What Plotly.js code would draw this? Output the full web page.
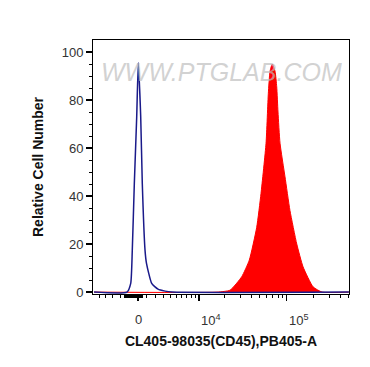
<!DOCTYPE html>
<html>
<head>
<meta charset="utf-8">
<script src="https://cdn.plot.ly/plotly-3.0.1.min.js"></script>
<style>html,body{margin:0;padding:0;background:#fff;}#chart{width:370px;height:367px;}</style>
</head>
<body>
<div id="chart"></div>
<script>
// Fluorescence intensity (PB405-A) and relative cell number
const blueX = [-6000, -1240, -815, -636, -412, -144, 33, 300, 479, 783, 950, 1554, 2322, 3250, 4290, 500000];
const blueY = [0, 0, 3.6, 17.5, 45, 73, 95.5, 73, 45, 17.5, 12, 3.6, 1.2, 0.4, 0, 0];
const redX = [-6000, 16300, 23000, 31200, 38000, 46100, 51500, 58700, 62300, 65100, 69000, 74100, 77400, 80000, 84300, 95900, 109000, 130000, 153000, 198000, 250000, 500000];
const redY = [0, 0, 0.8, 6.4, 13.3, 27, 41, 62, 82.8, 92, 95, 92, 85.5, 75, 62, 48, 34, 20, 10.5, 2.2, 0, 0];

const xMajorVals = [0, 10000, 100000];
const xMajorText = ["0", "10<sup>4</sup>", "10<sup>5</sup>"];
const xMinorVals = [-5000, -4000, -3000, -2000,
  -1500, -1400, -1300, -1200, -1100, -1000, -900, -800, -700, -600, -500, -400, -300, -200, -100, 100, 200, 300, 400, 500,
  1000, 2000, 3000, 4000, 5000, 6000, 7000, 8000, 9000,
  20000, 30000, 40000, 50000, 60000, 70000, 80000, 90000,
  200000, 300000, 400000, 500000];
const yMajorVals = [0, 20, 40, 60, 80, 100];
const yMinorVals = [5, 10, 15, 25, 30, 35, 45, 50, 55, 65, 70, 75, 85, 90, 95];

// biexponential-like display transform
const T = v => Math.asinh(v / 4300);

const font = "Liberation Sans, Arial, sans-serif";

const traces = [
  {x: redX.map(T), y: redY, type: "scatter", mode: "lines",
   line: {color: "#ff0000", width: 1, shape: "spline", smoothing: 0.5},
   fill: "tozeroy", fillcolor: "#ff0000", hoverinfo: "skip"},
  {x: blueX.map(T), y: blueY, type: "scatter", mode: "lines",
   line: {color: "#1a1a8a", width: 1.5, shape: "spline", smoothing: 0.5}, hoverinfo: "skip"}
];

const annotations = xMajorVals.map((v, i) => ({
  x: T(v), xref: "x", y: 0, yref: "paper", yshift: -16,
  text: xMajorText[i], showarrow: false,
  xanchor: i === 0 ? "center" : "left", yanchor: "top",
  font: {family: font, size: 13, color: "#333"}
}));
annotations.push({
  x: 0.5, xref: "paper", y: 0.938, yref: "paper",
  text: "WWW.PTGLAB.COM", showarrow: false,
  font: {family: font, size: 25, color: "rgba(190,190,190,0.7)", style: "italic"}
});

const layout = {
  width: 370, height: 367,
  margin: {l: 93, r: 21, t: 40, b: 73},
  paper_bgcolor: "#fff", plot_bgcolor: "#fff",
  showlegend: false,
  xaxis: {
    range: [-1.163, 5.452], showgrid: false, zeroline: false,
    showline: true, mirror: true, linecolor: "#000", linewidth: 1,
    tickmode: "array", tickvals: xMajorVals.map(T), showticklabels: false,
    ticks: "outside", ticklen: 6, tickwidth: 1.5, tickcolor: "#000",
    minor: {tickmode: "array", tickvals: xMinorVals.map(T), ticks: "outside", ticklen: 3, tickwidth: 1, tickcolor: "#000", showgrid: false},
    title: {text: "<b>CL405-98035(CD45),PB405-A</b>", font: {family: font, size: 14, color: "#111"}, standoff: 36}
  },
  yaxis: {
    range: [-0.8, 105], showgrid: false, zeroline: false,
    showline: true, mirror: true, linecolor: "#000", linewidth: 1,
    tickmode: "array", tickvals: yMajorVals,
    ticks: "outside", ticklen: 6, tickwidth: 2, tickcolor: "#000",
    tickfont: {family: font, size: 13, color: "#333"},
    minor: {tickmode: "array", tickvals: yMinorVals, ticks: "outside", ticklen: 3, tickwidth: 1, tickcolor: "#000", showgrid: false},
    title: {text: "<b>Relative Cell Number</b>", font: {family: font, size: 14, color: "#111"}, standoff: 14}
  },
  annotations: annotations
};

Plotly.newPlot("chart", traces, layout, {displayModeBar: false, staticPlot: true});
</script>
</body>
</html>
